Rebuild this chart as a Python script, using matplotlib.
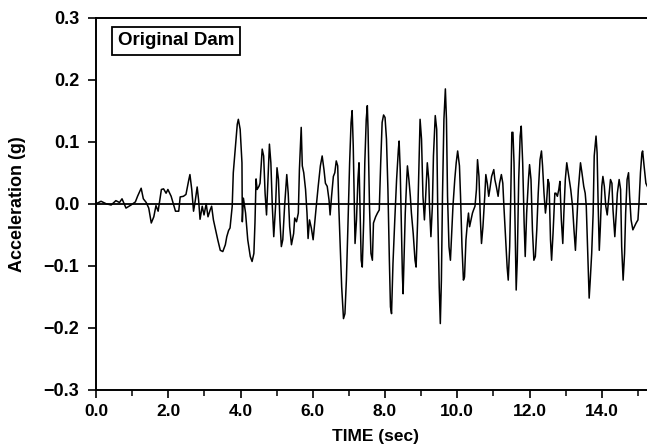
import matplotlib
matplotlib.use("Agg")
import matplotlib.pyplot as plt
import matplotlib.ticker as mticker
import numpy as np

# ── Data ─────────────────────────────────────────────────────────────────────
time_s = [
    0.00, 0.14, 0.28, 0.42, 0.55, 0.65, 0.72, 0.83, 0.97, 1.09, 1.15, 1.25, 1.31,
    1.39, 1.46, 1.53, 1.60, 1.66, 1.72, 1.81, 1.87, 1.94, 1.99, 2.08, 2.14, 2.20,
    2.29, 2.33, 2.42, 2.49, 2.57, 2.60, 2.65, 2.70, 2.75, 2.80, 2.84, 2.88, 2.94,
    2.99, 3.05, 3.10, 3.16, 3.20, 3.25, 3.31, 3.37, 3.44, 3.51, 3.58, 3.62, 3.67,
    3.71, 3.77, 3.80, 3.86, 3.91, 3.94, 3.99, 4.04, 4.05, 4.08, 4.14, 4.20, 4.27,
    4.32, 4.37, 4.40,
    4.43, 4.46, 4.51, 4.54, 4.60, 4.64, 4.68, 4.72, 4.76, 4.80, 4.84, 4.88, 4.92,
    4.97, 5.01, 5.05, 5.09, 5.13, 5.17, 5.22, 5.28, 5.32, 5.36, 5.41, 5.47, 5.50,
    5.55, 5.60, 5.63, 5.68, 5.71, 5.75, 5.80, 5.84, 5.87, 5.91, 5.96, 6.01, 6.06,
    6.10, 6.15, 6.21, 6.26, 6.31, 6.35, 6.40, 6.45, 6.48, 6.52, 6.57, 6.61,
    6.65, 6.69, 6.72, 6.76, 6.80, 6.85, 6.89, 6.93, 6.97, 7.02, 7.06, 7.09, 7.12,
    7.15, 7.17, 7.21, 7.25, 7.28, 7.30, 7.34, 7.37, 7.41, 7.44, 7.48, 7.51, 7.53,
    7.57, 7.61, 7.65, 7.68, 7.74, 7.79, 7.84, 7.88, 7.92, 7.96, 8.00, 8.04, 8.08,
    8.12, 8.15, 8.18, 8.22, 8.27, 8.32, 8.37, 8.39, 8.42, 8.45, 8.48, 8.50, 8.52,
    8.56, 8.60, 8.62, 8.66, 8.70, 8.73, 8.78, 8.83,
    8.86, 8.90, 8.94, 8.97, 9.01, 9.05, 9.09, 9.12, 9.17, 9.21, 9.23, 9.27, 9.31,
    9.34, 9.39, 9.43, 9.46, 9.50, 9.53, 9.56, 9.59, 9.63, 9.67, 9.70, 9.73, 9.77,
    9.81, 9.84, 9.88, 9.93, 9.97, 10.01, 10.06, 10.09, 10.13, 10.17, 10.20, 10.24,
    10.28, 10.31, 10.34, 10.38, 10.42, 10.45, 10.49, 10.53, 10.56, 10.60, 10.64,
    10.67, 10.71, 10.76, 10.79, 10.83, 10.87, 10.90, 10.95, 11.01, 11.04,
    11.08, 11.13, 11.17, 11.22, 11.26, 11.29, 11.34, 11.38, 11.41, 11.45, 11.48,
    11.51, 11.54, 11.57, 11.60, 11.63, 11.66, 11.70, 11.74, 11.77, 11.81, 11.85,
    11.88, 11.92, 11.97, 12.00, 12.04, 12.08, 12.12, 12.16, 12.20, 12.24, 12.29,
    12.33, 12.36, 12.40, 12.44, 12.47, 12.51, 12.54, 12.58, 12.61, 12.65, 12.70,
    12.73, 12.77, 12.81, 12.84, 12.88, 12.92, 12.95, 12.99, 13.03, 13.07, 13.10,
    13.14, 13.19, 13.23, 13.27,
    13.31, 13.35, 13.41, 13.45, 13.50, 13.54, 13.57, 13.61, 13.65, 13.68, 13.72,
    13.76, 13.79, 13.84, 13.87, 13.90, 13.93, 13.96, 14.00, 14.03, 14.07, 14.11,
    14.15, 14.18, 14.24, 14.28, 14.31, 14.36, 14.40, 14.43, 14.48, 14.52, 14.55,
    14.59, 14.63, 14.66, 14.70, 14.74, 14.77, 14.81, 14.86, 14.90, 14.95, 15.00,
    15.03, 15.07, 15.11, 15.13, 15.17, 15.22, 15.26,
]

accel_g = [
    0.000, 0.004, 0.000, -0.002, 0.005, 0.002, 0.008, -0.007, -0.002, 0.003, 0.012,
    0.025, 0.008, 0.002, -0.007, -0.031, -0.021, -0.003, -0.012, 0.023, 0.024,
    0.017, 0.023, 0.012, 0.000, -0.012,
    -0.012, 0.011, 0.012, 0.015, 0.039, 0.047, 0.023, -0.012, 0.006, 0.027, 0.006,
    -0.025, -0.004, -0.018, 0.000, -0.021, -0.010, -0.004, -0.026, -0.042, -0.058,
    -0.075, -0.077, -0.066, -0.053, -0.043, -0.039, -0.004, 0.050, 0.093, 0.128,
    0.136, 0.120, 0.066, -0.029, 0.009, -0.015, -0.058, -0.085, -0.093, -0.080,
    -0.031,
    0.040, 0.023, 0.028, 0.033, 0.088, 0.077, 0.017, -0.018, 0.039, 0.096, 0.066,
    -0.004, -0.053, -0.004, 0.058, 0.039, -0.026, -0.069, -0.058, -0.004, 0.047,
    0.017, -0.037, -0.066, -0.048, -0.023, -0.029, -0.015, 0.055, 0.123, 0.061,
    0.050, 0.023, -0.015, -0.056, -0.026, -0.039, -0.058, -0.026, -0.002, 0.028,
    0.061, 0.077, 0.055, 0.033, 0.028, 0.006, -0.018, 0.012, 0.044, 0.050,
    0.069, 0.061, -0.004, -0.069, -0.134, -0.185, -0.177, -0.123, -0.042, 0.066,
    0.131, 0.150, 0.093, -0.004, -0.064, -0.026, 0.039, 0.066, 0.012, -0.091,
    -0.102, -0.026, 0.066, 0.136, 0.158, 0.120, -0.004, -0.080, -0.091, -0.031,
    -0.021, -0.015, -0.010, 0.066, 0.131, 0.143, 0.139, 0.104, 0.023, -0.091,
    -0.166, -0.177, -0.096, -0.026, 0.039, 0.088, 0.101, 0.055, -0.026, -0.113,
    -0.145, -0.102, -0.015, 0.039, 0.061, 0.039, 0.012, -0.015, -0.048, -0.091,
    -0.102, -0.031, 0.066, 0.136, 0.104, 0.012, -0.026, 0.006, 0.066, 0.039,
    -0.004, -0.053, -0.004, 0.077, 0.142, 0.120, -0.015, -0.134, -0.193, -0.123,
    0.012, 0.136, 0.185, 0.136, 0.012, -0.069, -0.091, -0.053, -0.004, 0.039,
    0.066, 0.085, 0.061, 0.012, -0.069, -0.123, -0.118, -0.058, -0.031, -0.015,
    -0.037, -0.026, -0.015, -0.010, -0.004, 0.023, 0.071, 0.044, -0.026, -0.064,
    -0.037, 0.012, 0.047, 0.033, 0.012, 0.023, 0.044, 0.055, 0.039,
    0.028, 0.012, 0.033, 0.047, 0.033, -0.004, -0.058, -0.102, -0.123, -0.069,
    0.012, 0.115, 0.115, 0.066, -0.042, -0.139, -0.091, 0.039, 0.109, 0.125,
    0.066, -0.031, -0.085, -0.015, 0.039, 0.063, 0.039, -0.042, -0.091, -0.085,
    -0.042, 0.017, 0.071, 0.085, 0.061, 0.017, -0.015, 0.001, 0.039, 0.033,
    -0.058, -0.091, -0.048, 0.017, 0.017, 0.012, 0.023, 0.036, -0.026, -0.064,
    -0.015, 0.039, 0.066, 0.050, 0.039, 0.023, -0.004, -0.042, -0.075,
    -0.026, 0.023, 0.066, 0.050, 0.028, 0.017, -0.004, -0.080, -0.152, -0.123,
    -0.080, -0.015, 0.077, 0.109, 0.082, -0.004, -0.075, -0.037, 0.028, 0.044,
    0.028, -0.004, -0.018, 0.001, 0.039, 0.033, -0.010, -0.053, -0.015, 0.017,
    0.039, 0.023, -0.069, -0.123, -0.080, -0.015, 0.039, 0.050, 0.012, -0.026,
    -0.042, -0.037, -0.031, -0.026, 0.001, 0.050, 0.082, 0.085, 0.061, 0.033,
    0.028,
]

x_ticks = [0, 2, 4, 6, 8, 10, 12, 14]
y_ticks = [-0.3, -0.2, -0.1, 0.0, 0.1, 0.2, 0.3]
panel_label = "Original Dam"

# ── Figure ───────────────────────────────────────────────────────────────────
plt.rcParams["font.family"] = ["Liberation Sans", "DejaVu Sans"]
plt.rcParams["font.weight"] = "bold"

fig = plt.figure(figsize=(6.47, 4.46), dpi=100)
# axes run past the right edge, as in the cropped scan
ax = fig.add_axes([96 / 647, 56 / 446, 560 / 647, 372.5 / 446])

ax.plot(time_s, accel_g, color="black", linewidth=1.1, zorder=3)
ax.axhline(0.0, color="black", linewidth=1.3, zorder=2)

ax.set_xlim(0, 15.5)
ax.set_ylim(-0.3, 0.3)

ax.set_xticks(x_ticks)
ax.xaxis.set_minor_locator(mticker.MultipleLocator(1))
ax.xaxis.set_major_formatter(mticker.FormatStrFormatter("%.1f"))
ax.set_yticks(y_ticks)
ax.yaxis.set_major_formatter(
    mticker.FuncFormatter(lambda v, _: f"{v:.1f}".replace("-", "\u2212"))
)

ax.tick_params(axis="both", which="major", direction="out", length=6, width=1.2)
ax.tick_params(axis="x", which="major", labelsize=12.5, pad=4)
ax.tick_params(axis="y", which="major", labelsize=13, pad=6)
ax.tick_params(axis="x", which="minor", direction="out", length=4, width=1.1)

for side in ("left", "bottom", "top"):
    ax.spines[side].set_linewidth(1.4)
ax.spines["right"].set_visible(False)

ax.set_xlabel("TIME (sec)", fontsize=12.5, fontweight="bold", va="center")
ax.xaxis.set_label_coords((375 - 96) / 560, (390 - 437) / 372.5)
ax.set_ylabel("Acceleration (g)", fontsize=13, fontweight="bold", va="center")
ax.yaxis.set_label_coords((18 - 96) / 560, 0.5)

ax.text(0.039, 0.937, panel_label, transform=ax.transAxes,
        ha="left", va="center", fontsize=13.5, fontweight="bold",
        bbox=dict(boxstyle="square,pad=0.3", facecolor="white",
                  edgecolor="black", linewidth=1.3))

fig.savefig("out.png", dpi=100)
